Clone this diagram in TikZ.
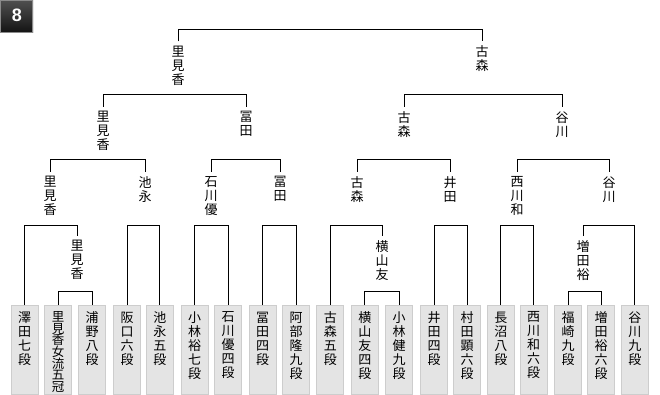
\documentclass[tikz,border=0pt]{standalone}
\usepackage{fontspec}
\newfontfamily\cjk{Noto Sans CJK JP}
\newfontfamily\badgefont{Liberation Sans}
\definecolor{boxfill}{HTML}{E4E4E4}
\definecolor{boxedge}{HTML}{CDCDCD}
\definecolor{badgetop}{HTML}{505050}
\definecolor{badgebot}{HTML}{121212}
\definecolor{badgeedge}{HTML}{8A8A8A}
\begin{document}
\begin{tikzpicture}[x=1pt,y=-1pt,
  conn/.style={draw=black,line width=1pt},
  lbl/.style={font=\cjk\fontsize{13}{14}\selectfont,align=center,inner xsep=0pt,inner ysep=4.5pt,outer sep=0pt,anchor=north},
  leafbox/.style={draw=boxedge,fill=boxfill,line width=0.8pt,minimum width=27pt,minimum height=89pt,inner sep=0pt,outer sep=0pt,anchor=north},
  leaftxt/.style={font=\cjk\fontsize{13}{14}\selectfont,align=center,inner sep=0pt,anchor=north},
  leaftight/.style={leaftxt,font={\cjk\fontsize{12.5}{11.6}\selectfont\lineskiplimit=-20pt\lineskip=0pt}}]
\useasboundingbox (0,0) rectangle (660,395);
% badge
\shade[top color=badgetop,bottom color=badgebot] (0,0) rectangle (33,33);
\draw[badgeedge,line width=1pt] (0.5,0.5) rectangle (32.5,32.5);
\node[font=\badgefont\bfseries\fontsize{18}{18}\selectfont,text=white,inner sep=0pt] (badge) at (17,15.5) {8};
% level lines
\coordinate (h0) at (0,30);
\coordinate (h1) at (0,95);
\coordinate (h2) at (0,160);
\coordinate (h3) at (0,225.7);
\coordinate (h4) at (0,291);
% leaves
\foreach \n/\x/\t in {
  l1/24.6/{澤\\田\\七\\段},
  l3/92/{浦\\野\\八\\段},
  l4/127/{阪\\口\\六\\段},
  l5/159.8/{池\\永\\五\\段},
  l6/194.5/{小\\林\\裕\\七\\段},
  l7/228/{石\\川\\優\\四\\段},
  l8/262.6/{冨\\田\\四\\段},
  l9/296/{阿\\部\\隆\\九\\段},
  l10/330.3/{古\\森\\五\\段},
  l11/364.8/{横\\山\\友\\四\\段},
  l12/399/{小\\林\\健\\九\\段},
  l13/434.2/{井\\田\\四\\段},
  l14/467/{村\\田\\顕\\六\\段},
  l15/500.8/{長\\沼\\八\\段},
  l16/533.6/{西\\川\\和\\六\\段},
  l17/568/{福\\崎\\九\\段},
  l18/601.2/{増\\田\\裕\\六\\段},
  l19/634.8/{谷\\川\\九\\段}}
{
  \node[leafbox] (\n) at (\x,305) {};
  \node[leaftxt] (\n t) at ([yshift=-6.7pt]\n.north) {\t};
}
\node[leafbox] (l2) at (58.2,305) {};
\node[leaftight] (l2t) at ([yshift=-6.5pt]l2.north) {里\\見\\香\\女\\流\\五\\冠};
% labels level 3
\node[lbl] (a3) at (77,236) {里\\見\\香};
\node[lbl] (b3) at (382,236) {横\\山\\友};
\node[lbl] (c3) at (583,236) {増\\田\\裕};
% level 2
\node[lbl] (a2) at (50,172) {里\\見\\香};
\node[lbl] (b2) at (145,172) {池\\永};
\node[lbl] (c2) at (211,172) {石\\川\\優};
\node[lbl] (d2) at (280,172) {冨\\田};
\node[lbl] (e2) at (357,172) {古\\森};
\node[lbl] (f2) at (450,172) {井\\田};
\node[lbl] (g2) at (517,172) {西\\川\\和};
\node[lbl] (h2n) at (609,172) {谷\\川};
% level 1
\node[lbl] (a1) at (103,107) {里\\見\\香};
\node[lbl] (b1) at (246,107) {冨\\田};
\node[lbl] (c1) at (404,107) {古\\森};
\node[lbl] (d1) at (562,107) {谷\\川};
% level 0
\node[lbl] (a0) at (178,41.5) {里\\見\\香};
\node[lbl] (b0) at (482,41.5) {古\\森};
% connectors
\foreach \p/\q/\h in {l2/l3/h4, l11/l12/h4, l17/l18/h4,
  l1/a3/h3, l4/l5/h3, l6/l7/h3, l8/l9/h3, l10/b3/h3, l13/l14/h3, l15/l16/h3, c3/l19/h3,
  a2/b2/h2, c2/d2/h2, e2/f2/h2, g2/h2n/h2,
  a1/b1/h1, c1/d1/h1,
  a0/b0/h0}
{
  \draw[conn] (\p.north) -- (\p.north |- \h) -| (\q.north);
}
\end{tikzpicture}
\end{document}
